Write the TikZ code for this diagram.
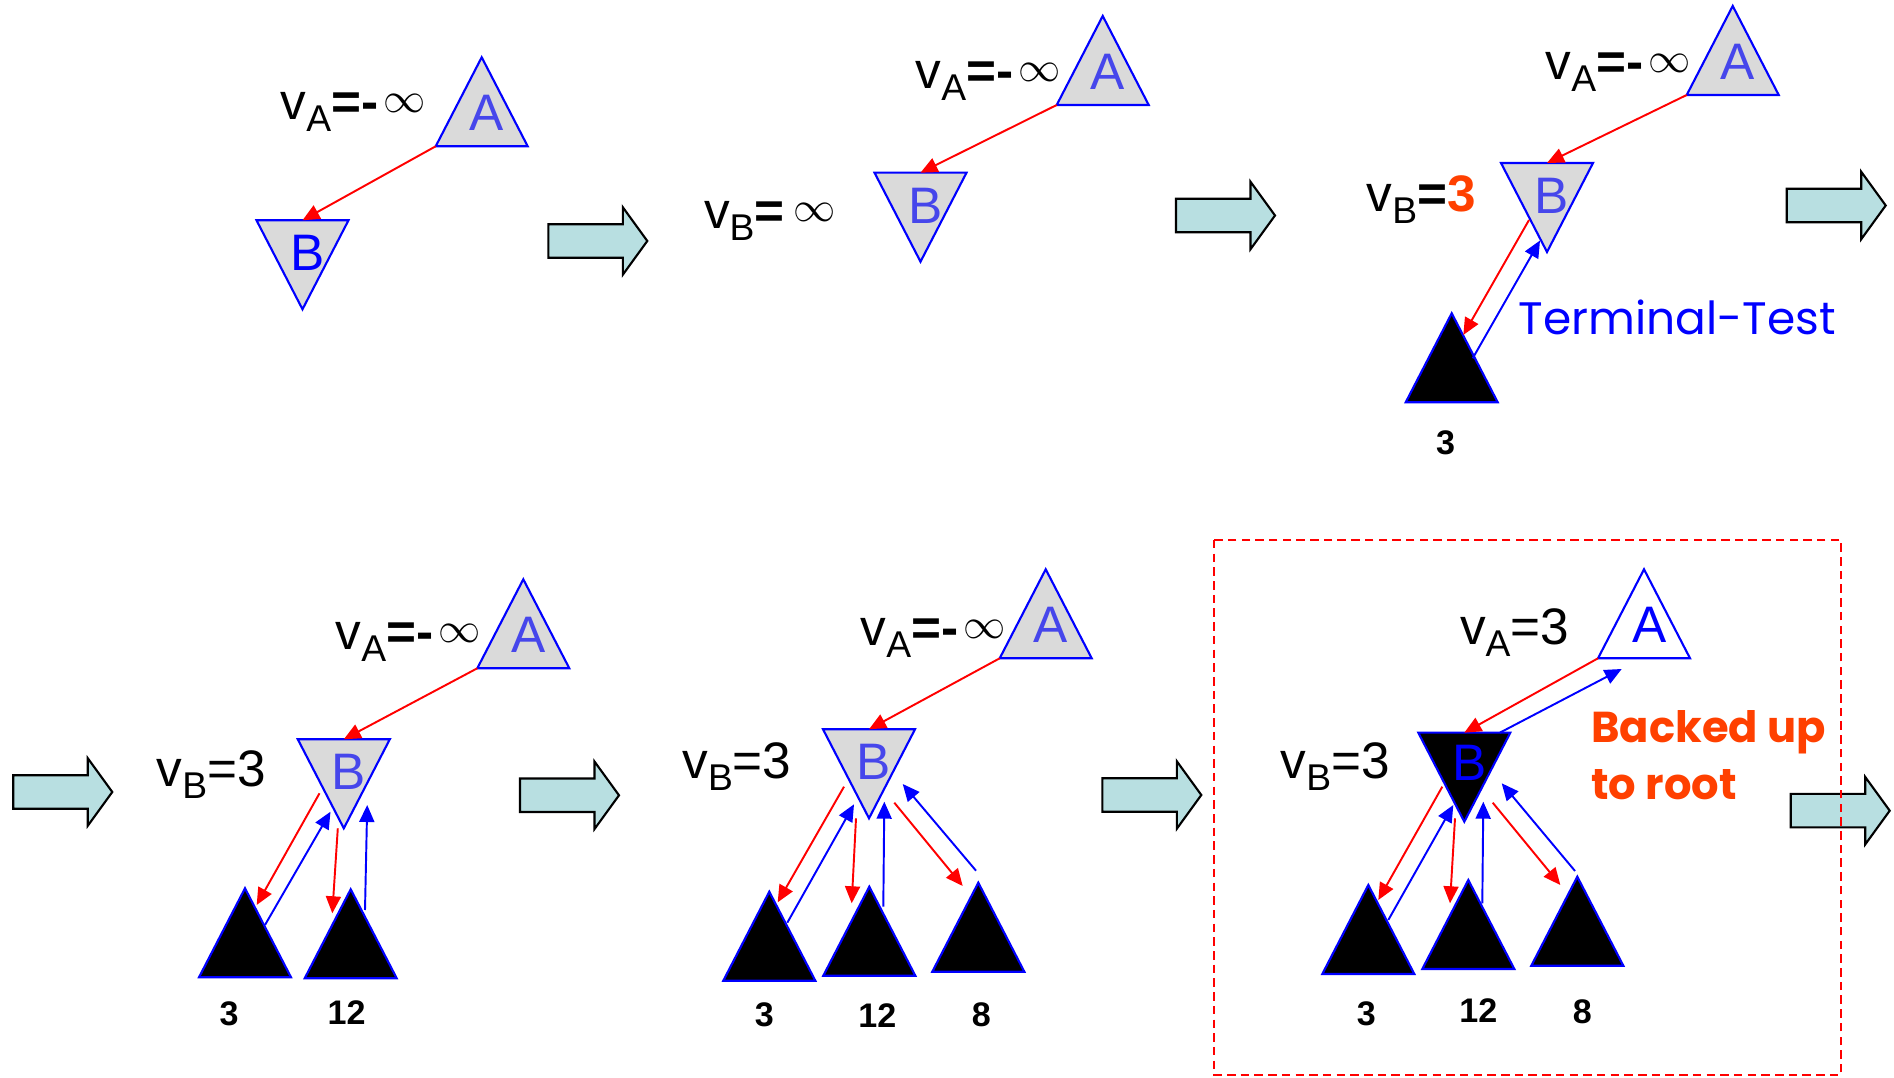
\documentclass[tikz,border=0pt]{standalone}
\usepackage{fontspec}
\setmainfont{Liberation Sans}
\newfontfamily\comicfont{Poppins}
\usepackage{tikz}
\usetikzlibrary{
  shapes.geometric,
  arrows.meta,
  positioning, calc
}
\definecolor{nodeblue}{RGB}{0,0,255}
\definecolor{ltrblue}{RGB}{70,70,235}
\definecolor{trigray}{RGB}{218,218,218}
\definecolor{edgered}{RGB}{255,0,0}
\definecolor{hotorange}{RGB}{255,64,0}
\definecolor{arrowcyan}{RGB}{184,223,225}
\tikzset{
  tri/.style={isosceles triangle,isosceles triangle stretches,inner sep=0pt,outer sep=0pt,
    minimum width=0.92cm,minimum height=0.89cm,draw=nodeblue,line width=0.6pt,anchor=apex},
  maxtri/.style={tri,shape border rotate=90,fill=trigray},
  mintri/.style={tri,shape border rotate=270,fill=trigray},
  leaftri/.style={tri,shape border rotate=90,fill=black},
  ltr/.style={font=\fontsize{14.6}{16}\selectfont,inner sep=0pt,text=ltrblue},
  valtext/.style={font=\fontsize{14.6}{17}\selectfont,inner sep=0pt,anchor=base west},
  num/.style={font=\fontsize{9.7}{11}\selectfont\bfseries,inner sep=0pt},
  redarr/.style={-{Triangle[length=0.17cm,width=0.15cm]},line width=0.55pt,color=edgered},
  bluearr/.style={-{Triangle[length=0.17cm,width=0.15cm]},line width=0.55pt,color=nodeblue},
  bigarr/.style={draw=black,fill=arrowcyan,line width=0.6pt,line join=miter}
}
\newcommand{\vsub}[2]{v\raisebox{-0.12cm}{\fontsize{10.6}{12}\selectfont #1}#2}
\newcommand{\neginf}{\textbf{=-}\kern1.5pt\raisebox{2pt}{\fontsize{13.2}{13}\selectfont$\infty$}}
\newcommand{\posinf}{\textbf{=}\kern2.5pt\raisebox{2pt}{\fontsize{13.2}{13}\selectfont$\infty$}}

\begin{document}
\begin{tikzpicture}
  \useasboundingbox (0,0) rectangle (18.94,-10.78);

  % step arrows
  \foreach \x/\y in {5.483/2.41, 11.76/2.155, 17.867/2.055, 0.133/7.92, 5.20/7.953, 11.023/7.95, 17.907/8.107}
    \draw[bigarr] (\x,-\y) ++(0,0.1675) -- ++(0.745,0) -- ++(0,0.17) -- ++(0.245,-0.3375)
      -- ++(-0.245,-0.3375) -- ++(0,0.17) -- ++(-0.745,0) -- cycle;

  % step 1
  \node[maxtri] (A1) at (4.817,-0.573) {};
  \node[ltr] (A1t) at ([shift={(0.05,-0.56)}]A1.apex) {A};
  \node[mintri] (B1) at (3.025,-3.093) {};
  \node[ltr,text=nodeblue] (B1t) at ([shift={(0.05,0.56)}]B1.apex) {B};
  \node[valtext] (A1v) at (2.80,-1.20) {\vsub{A}{\neginf}};
  \draw[redarr] (A1.left corner) -- (B1.lower side);

  % step 2
  \node[maxtri] (A2) at (11.027,-0.16) {};
  \node[ltr] (A2t) at ([shift={(0.05,-0.56)}]A2.apex) {A};
  \node[mintri] (B2) at (9.205,-2.617) {};
  \node[ltr] (B2t) at ([shift={(0.05,0.56)}]B2.apex) {B};
  \node[valtext] (A2v) at (9.15,-0.883) {\vsub{A}{\neginf}};
  \node[valtext] (B2v) at (7.033,-2.283) {\vsub{B}{\posinf}};
  \draw[redarr] (A2.left corner) -- (B2.lower side);

  % step 3
  \node[maxtri] (A3) at (17.327,-0.06) {};
  \node[ltr] (A3t) at ([shift={(0.05,-0.56)}]A3.apex) {A};
  \node[mintri] (B3) at (15.47,-2.52) {};
  \node[ltr] (B3t) at ([shift={(0.05,0.56)}]B3.apex) {B};
  \node[leaftri] (T3) at (14.517,-3.133) {};
  \node[num,below=0.28cm of T3.lower side,xshift=-0.06cm] (T3n) {3};
  \node[valtext] (A3v) at (15.45,-0.80) {\vsub{A}{\neginf}};
  \node[valtext] (B3v) at (13.66,-2.117) {\vsub{B}{\textbf{=}\textcolor{hotorange}{\bfseries 3}}};
  \node[valtext,font=\fontsize{12.95}{16}\comicfont,text=nodeblue] (tt) at (15.18,-3.35) {Terminal-Test};
  \draw[redarr] (A3.left corner) -- (B3.lower side);
  \draw[redarr] ([shift={(-0.18,0.32)}]B3.apex) -- ([shift={(0.116,-0.217)}]T3.apex);
  \draw[bluearr] ([shift={(0.21,-0.45)}]T3.apex) -- ([shift={(-0.07,0.115)}]B3.apex);

  % step 4
  \node[maxtri] (A4) at (5.233,-5.793) {};
  \node[ltr] (A4t) at ([shift={(0.05,-0.56)}]A4.apex) {A};
  \node[mintri] (B4) at (3.438,-8.283) {};
  \node[ltr] (B4t) at ([shift={(0.05,0.56)}]B4.apex) {B};
  \node[leaftri] (L4a) at (2.45,-8.883) {};
  \node[leaftri] (L4b) at (3.507,-8.893) {};
  \node[num,below=0.24cm of L4a.lower side,xshift=-0.16cm] (L4an) {3};
  \node[num,below=0.22cm of L4b.lower side,xshift=-0.04cm] (L4bn) {12};
  \node[valtext] (A4v) at (3.35,-6.50) {\vsub{A}{\neginf}};
  \node[valtext] (B4v) at (1.56,-7.867) {\vsub{B}{=3}};
  \draw[redarr] (A4.left corner) -- (B4.lower side);
  \draw[redarr] ([shift={(-0.243,0.35)}]B4.apex) -- ([shift={(0.117,-0.167)}]L4a.apex);
  \draw[bluearr] ([shift={(0.20,-0.367)}]L4a.apex) -- ([shift={(-0.133,0.166)}]B4.apex);
  \draw[redarr] ([shift={(-0.06,0)}]B4.apex) -- ([shift={(-0.184,-0.24)}]L4b.apex);
  \draw[bluearr] ([shift={(0.143,-0.207)}]L4b.apex) -- ([shift={(0.234,0.233)}]B4.apex);

  % step 5
  \node[maxtri] (A5) at (10.457,-5.693) {};
  \node[ltr] (A5t) at ([shift={(0.05,-0.56)}]A5.apex) {A};
  \node[mintri] (B5) at (8.69,-8.183) {};
  \node[ltr] (B5t) at ([shift={(0.05,0.56)}]B5.apex) {B};
  \node[leaftri] (L5a) at (7.693,-8.917) {};
  \node[leaftri] (L5b) at (8.693,-8.867) {};
  \node[leaftri] (L5c) at (9.783,-8.827) {};
  \node[num,below=0.21cm of L5a.lower side,xshift=-0.05cm] (L5an) {3};
  \node[num,below=0.27cm of L5b.lower side,xshift=0.08cm] (L5bn) {12};
  \node[num,below=0.30cm of L5c.lower side,xshift=0.03cm] (L5cn) {8};
  \node[valtext] (A5v) at (8.60,-6.46) {\vsub{A}{\neginf}};
  \node[valtext] (B5v) at (6.817,-7.79) {\vsub{B}{=3}};
  \draw[redarr] (A5.left corner) -- (B5.lower side);
  \draw[redarr] ([shift={(-0.25,0.316)}]B5.apex) -- ([shift={(0.084,-0.106)}]L5a.apex);
  \draw[bluearr] ([shift={(0.18,-0.31)}]L5a.apex) -- ([shift={(-0.15,0.14)}]B5.apex);
  \draw[redarr] ([shift={(-0.13,0)}]B5.apex) -- ([shift={(-0.176,-0.166)}]L5b.apex);
  \draw[bluearr] ([shift={(0.14,-0.20)}]L5b.apex) -- ([shift={(0.153,0.166)}]B5.apex);
  \draw[redarr] ([shift={(0.253,0.156)}]B5.apex) -- ([shift={(-0.156,-0.033)}]L5c.apex);
  \draw[bluearr] ([shift={(-0.023,0.12)}]L5c.apex) -- ([shift={(0.337,0.343)}]B5.apex);

  % step 6
  \draw[edgered,line width=0.6pt,dash pattern=on 0.085cm off 0.052cm] (12.14,-5.40) rectangle (18.41,-10.75);
  \node[maxtri,fill=white] (A6) at (16.44,-5.693) {};
  \node[ltr,text=nodeblue] (A6t) at ([shift={(0.06,-0.56)}]A6.apex) {A};
  \node[mintri,fill=black] (B6) at (14.643,-8.217) {};
  \node[ltr,text=nodeblue] (B6t) at ([shift={(0.05,0.59)}]B6.apex) {B};
  \node[leaftri] (L6a) at (13.683,-8.85) {};
  \node[leaftri] (L6b) at (14.683,-8.80) {};
  \node[leaftri] (L6c) at (15.773,-8.767) {};
  \node[num,below=0.27cm of L6a.lower side,xshift=-0.02cm] (L6an) {3};
  \node[num,below=0.29cm of L6b.lower side,xshift=0.10cm] (L6bn) {12};
  \node[num,below=0.33cm of L6c.lower side,xshift=0.05cm] (L6cn) {8};
  \node[valtext] (A6v) at (14.593,-6.45) {\vsub{A}{=3}};
  \node[valtext] (B6v) at (12.80,-7.783) {\vsub{B}{=3}};
  \node[valtext,font=\fontsize{12.3}{16}\comicfont\bfseries,text=hotorange] (bk1) at (15.907,-7.427) {Backed up};
  \node[valtext,font=\fontsize{12.3}{16}\comicfont\bfseries,text=hotorange] (bk2) at ([yshift=-0.573cm]bk1.base west) {to root};
  \draw[redarr] (A6.left corner) -- (B6.lower side);
  \draw[bluearr] ([xshift=0.355cm]B6.lower side) -- ([shift={(0.237,-0.107)}]A6.left corner);
  \draw[redarr] ([shift={(-0.22,0.35)}]B6.apex) -- ([shift={(0.10,-0.15)}]L6a.apex);
  \draw[bluearr] ([shift={(0.20,-0.35)}]L6a.apex) -- ([shift={(-0.11,0.167)}]B6.apex);
  \draw[redarr] ([shift={(-0.093,0.034)}]B6.apex) -- ([shift={(-0.183,-0.233)}]L6b.apex);
  \draw[bluearr] ([shift={(0.14,-0.233)}]L6b.apex) -- ([shift={(0.19,0.20)}]B6.apex);
  \draw[redarr] ([shift={(0.284,0.19)}]B6.apex) -- ([shift={(-0.17,-0.083)}]L6c.apex);
  \draw[bluearr] ([shift={(-0.023,0.057)}]L6c.apex) -- ([shift={(0.374,0.384)}]B6.apex);
\end{tikzpicture}
\end{document}
